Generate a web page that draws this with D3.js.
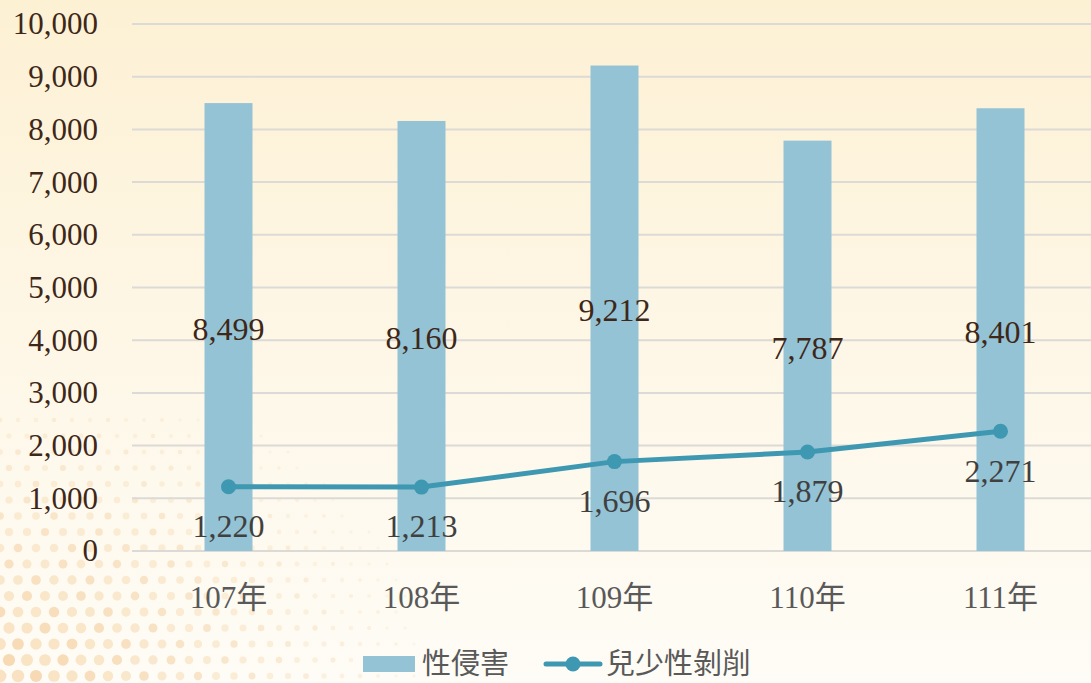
<!DOCTYPE html>
<html>
<head>
<meta charset="utf-8">
<script src="https://cdn.jsdelivr.net/npm/d3@7"></script>
<style>
  body { margin: 0; overflow: hidden; }
  svg { display: block; }
</style>
</head>
<body>
<svg id="chart" width="1091" height="683"></svg>
<script>
// data
const years = ["107年", "108年", "109年", "110年", "111年"];
const sexAssault = [8499, 8160, 9212, 7787, 8401];
const childExploit = [1220, 1213, 1696, 1879, 2271];
const yTicks = [0, 1000, 2000, 3000, 4000, 5000, 6000, 7000, 8000, 9000, 10000];

const svg = d3.select("#chart");
const W = 1091, H = 683;
const margin = {top: 24, right: -6, bottom: 132, left: 132};
const serif = "'Liberation Serif', 'Times New Roman', serif";

// background
const defs = svg.append("defs");
const bg = defs.append("linearGradient").attr("id", "bg")
  .attr("x1", 0).attr("y1", 0).attr("x2", 0).attr("y2", 1);
bg.append("stop").attr("offset", 0).attr("stop-color", "#fdf1d4");
bg.append("stop").attr("offset", 0.6).attr("stop-color", "#fef8ea");
bg.append("stop").attr("offset", 1).attr("stop-color", "#fefcf6");
svg.append("rect").attr("width", W).attr("height", H).attr("fill", "url(#bg)");

// decorative dots, bottom-left corner
const dots = svg.append("g");
for (let r = 0; r < 18; r++) {
  for (let c = 0; c < 24; c++) {
    const x = c * 18 + (r % 2) * 9;
    const y = 420 + r * 16;
    const d = Math.hypot(x * 0.9, (H - y) * 1.2);
    const t = 1 - d / 380;
    if (t <= 0) continue;
    dots.append("circle").attr("cx", x).attr("cy", y)
      .attr("r", 1.5 + 5 * t)
      .attr("fill", (r + c) % 3 === 0 ? "#f2c48a" : "#f5d3a2")
      .attr("opacity", 0.15 + 0.5 * t);
  }
}

const g = svg.append("g");
const x = d3.scaleBand().domain(years).range([margin.left, W - margin.right]);
const y = d3.scaleLinear().domain([0, 10000]).range([H - margin.bottom, margin.top]);
const fmt = d3.format(",");

// gridlines
g.selectAll(".grid").data(yTicks).enter().append("line")
  .attr("x1", margin.left).attr("x2", W)
  .attr("y1", d => y(d)).attr("y2", d => y(d))
  .attr("stroke", "#dcdad6").attr("stroke-width", 2);

// y axis labels
const yAxis = g.append("g").attr("transform", "translate(98,0)")
  .call(d3.axisLeft(y).tickValues(yTicks).tickFormat(fmt).tickSize(0).tickPadding(0));
yAxis.select(".domain").remove();
yAxis.selectAll("text")
  .attr("font-family", serif)
  .attr("font-size", 31).attr("fill", "#3e2718");

// x axis labels
const xAxis = g.append("g").attr("transform", `translate(0,${y(0) + 32})`)
  .call(d3.axisBottom(x).tickSize(0));
xAxis.select(".domain").remove();
xAxis.selectAll("text")
  .attr("font-family", "'Liberation Serif', 'Noto Sans CJK TC', serif")
  .attr("font-size", 31).attr("fill", "#595959").attr("dy", "0.71em");

// bars
const barW = 48;
g.selectAll(".bar").data(sexAssault).enter().append("rect")
  .attr("x", (d, i) => x(years[i]) + x.bandwidth() / 2 - barW / 2)
  .attr("width", barW)
  .attr("y", d => y(d))
  .attr("height", d => y(0) - y(d))
  .attr("fill", "#93c3d5");

// bar labels
g.selectAll(".blab").data(sexAssault).enter().append("text")
  .attr("x", (d, i) => x(years[i]) + x.bandwidth() / 2)
  .attr("y", d => (y(d) + y(0)) / 2 + 2)
  .attr("dy", "0.35em")
  .attr("text-anchor", "middle")
  .attr("font-family", serif)
  .attr("font-size", 32).attr("fill", "#3e2718")
  .text(fmt);

// line
const cx = (d, i) => x(years[i]) + x.bandwidth() / 2;
g.append("path").datum(childExploit)
  .attr("d", d3.line().x(cx).y(d => y(d)))
  .attr("fill", "none").attr("stroke", "#3e98b1").attr("stroke-width", 5);
g.selectAll(".pt").data(childExploit).enter().append("circle")
  .attr("cx", cx).attr("cy", d => y(d)).attr("r", 7.5)
  .attr("fill", "#3e98b1");

// line labels
g.selectAll(".llab").data(childExploit).enter().append("text")
  .attr("x", cx)
  .attr("y", d => y(d) + 39)
  .attr("dy", "0.35em")
  .attr("text-anchor", "middle")
  .attr("font-family", serif)
  .attr("font-size", 32).attr("fill", "#404040")
  .text(fmt);

// legend (sits at the bottom edge, as in the original)
const lg = svg.append("g").attr("transform", "translate(0,664)");
lg.append("rect").attr("x", 363).attr("y", -8).attr("width", 52).attr("height", 16).attr("fill", "#93c3d5");
lg.append("text").attr("x", 422).attr("y", 0).attr("dy", "0.34em")
  .attr("font-family", "'Noto Sans CJK TC', sans-serif").attr("font-size", 29)
  .attr("fill", "#595959").text("性侵害");
lg.append("line").attr("x1", 546).attr("x2", 600).attr("y1", 0).attr("y2", 0)
  .attr("stroke", "#3e98b1").attr("stroke-width", 5).attr("stroke-linecap", "round");
lg.append("circle").attr("cx", 573).attr("cy", 0).attr("r", 7.5).attr("fill", "#3e98b1");
lg.append("text").attr("x", 606).attr("y", 0).attr("dy", "0.34em")
  .attr("font-family", "'Noto Sans CJK TC', sans-serif").attr("font-size", 29)
  .attr("fill", "#595959").text("兒少性剝削");
</script>
</body>
</html>
